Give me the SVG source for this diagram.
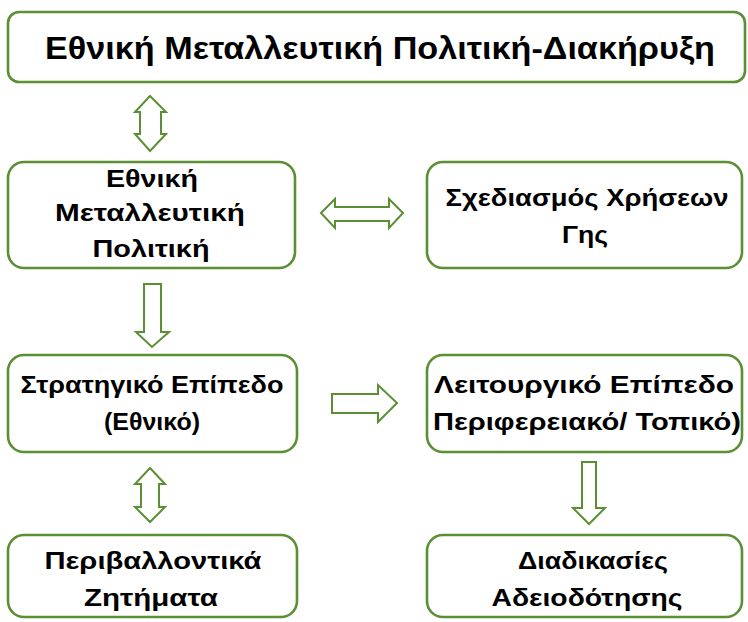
<svg xmlns="http://www.w3.org/2000/svg" width="748" height="622" viewBox="0 0 748 622">
<style>
.box{fill:#fff;stroke:#5b8f33;stroke-width:2.6}
.arr{fill:#fff;stroke:#5b8f33;stroke-width:2;stroke-linejoin:miter}
text{font-family:"Liberation Sans",Arial,sans-serif;font-weight:bold;fill:#000;text-anchor:middle;font-size:24.5px}
.t{font-size:31px}
</style>
<rect width="748" height="622" fill="#fff"/>
<g id="connectors">
<path class="arr" d="M150,96 L166,112 L161,112 L161,134 L166,134 L150,151 L135,134 L140,134 L140,112 L135,112 Z"/>
<path class="arr" d="M321,213 L335,199 L335,207 L389,207 L389,199 L403,213 L389,228 L389,221 L335,221 L335,228 Z"/>
<path class="arr" d="M144,284 L161,284 L161,332 L169,332 L152,347 L136,332 L144,332 Z"/>
<path class="arr" d="M332,394 L378,394 L378,385 L397,403 L378,422 L378,413 L332,413 Z"/>
<path class="arr" d="M582,462 L596,462 L596,508 L605,508 L589,524 L573,508 L582,508 Z"/>
<path class="arr" d="M150,468 L165,484 L159,484 L159,507 L165,507 L150,522 L135,507 L141,507 L141,484 L135,484 Z"/>
</g>
<g id="n1">
<rect class="box" x="8" y="12" width="737" height="70" rx="11"/>
<text class="t" x="380" y="59" textLength="670" lengthAdjust="spacingAndGlyphs">Εθνική Μεταλλευτική Πολιτική-Διακήρυξη</text>
</g>
<g id="n2">
<rect class="box" x="8" y="162" width="287" height="106" rx="16"/>
<text x="152" y="187" textLength="92" lengthAdjust="spacingAndGlyphs">Εθνική</text>
<text x="150" y="221" textLength="190" lengthAdjust="spacingAndGlyphs">Μεταλλευτική</text>
<text x="151" y="257" textLength="117" lengthAdjust="spacingAndGlyphs">Πολιτική</text>
</g>
<g id="n3">
<rect class="box" x="427" y="162" width="315" height="106" rx="16"/>
<text x="587" y="206" textLength="283" lengthAdjust="spacingAndGlyphs">Σχεδιασμός Χρήσεων</text>
<text x="585" y="243" textLength="46" lengthAdjust="spacingAndGlyphs">Γης</text>
</g>
<g id="n4">
<rect class="box" x="8" y="355" width="289" height="97" rx="16"/>
<text x="152" y="393" textLength="263" lengthAdjust="spacingAndGlyphs">Στρατηγικό Επίπεδο</text>
<text x="152" y="430" textLength="96" lengthAdjust="spacingAndGlyphs">(Εθνικό)</text>
</g>
<g id="n5">
<rect class="box" x="427" y="355" width="315" height="97" rx="16"/>
<text x="584" y="393" textLength="300" lengthAdjust="spacingAndGlyphs">Λειτουργικό Επίπεδο</text>
<text x="587" y="430" textLength="308" lengthAdjust="spacingAndGlyphs">Περιφερειακό/ Τοπικό)</text>
</g>
<g id="n6">
<rect class="box" x="8" y="535" width="289" height="82" rx="16"/>
<text x="153" y="569" textLength="217" lengthAdjust="spacingAndGlyphs">Περιβαλλοντικά</text>
<text x="151" y="606" textLength="134" lengthAdjust="spacingAndGlyphs">Ζητήματα</text>
</g>
<g id="n7">
<rect class="box" x="427" y="535" width="315" height="82" rx="16"/>
<text x="593" y="569" textLength="150" lengthAdjust="spacingAndGlyphs">Διαδικασίες</text>
<text x="587" y="606" textLength="191" lengthAdjust="spacingAndGlyphs">Αδειοδότησης</text>
</g>
</svg>
